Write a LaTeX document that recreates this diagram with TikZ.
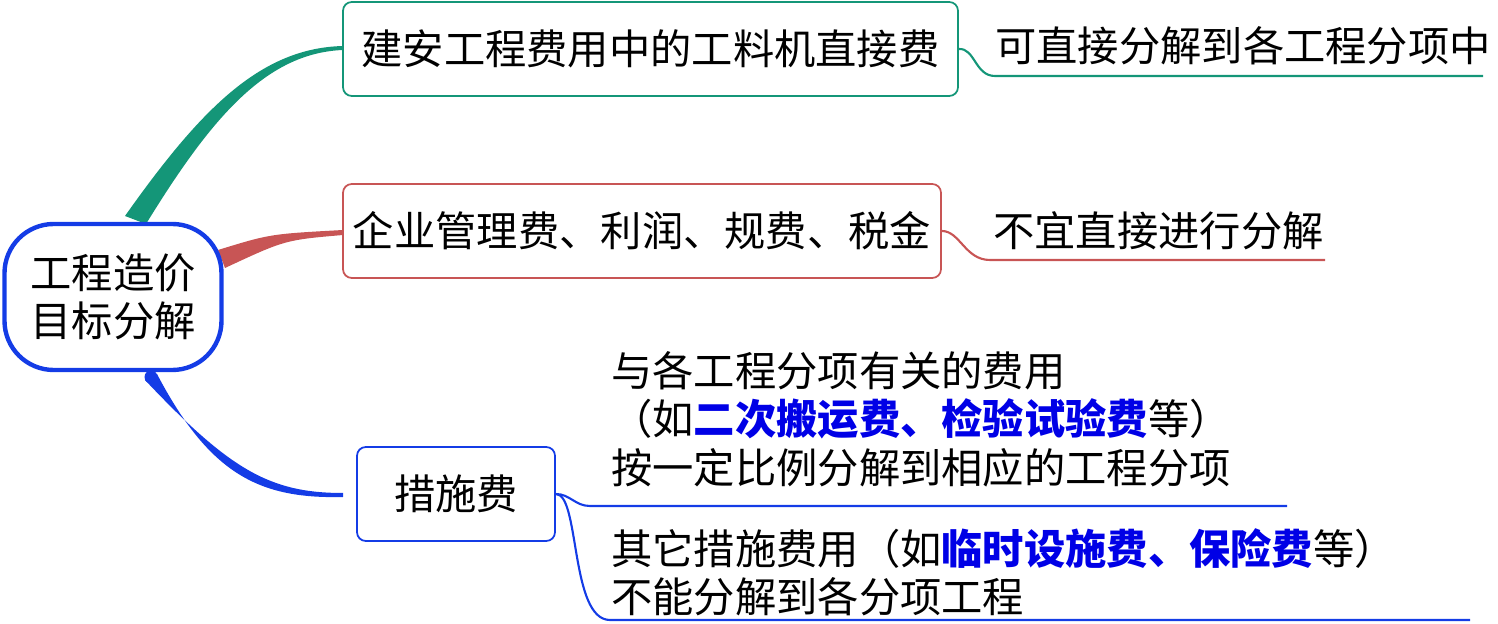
\documentclass[tikz,border=0pt]{standalone}
\usepackage{fontspec}
\setmainfont{Noto Sans CJK SC}
\definecolor{cg}{RGB}{20,150,120}
\definecolor{cr}{RGB}{200,85,85}
\definecolor{cb}{RGB}{20,60,230}
\definecolor{bt}{RGB}{0,0,230}
\begin{document}
\begin{tikzpicture}[x=0.02cm,y=-0.02cm,
 box/.style={draw,rounded corners=5pt,line width=1pt,inner sep=0pt,font=\fontsize{23.5pt}{28pt}\selectfont},
 txt/.style={anchor=west,inner sep=0pt,font=\fontsize{23.5pt}{27.5pt}\selectfont,align=left}]
\useasboundingbox (0,0) rectangle (1498,624);
% branches
\fill[cg] (125,216) .. controls (200,110) and (260,48) .. (343,46) -- (343,50) .. controls (265,53) and (210,120) .. (146,224) -- cycle;
\fill[cr] (218,250) .. controls (270,234) .. (343,230) -- (343,235) .. controls (285,240) .. (225,268) -- cycle;
\fill[cb] (145,380) .. controls (230,470) and (270,493) .. (343,493) -- (343,497) .. controls (260,499) and (210,475) .. (157,374) -- cycle;
\fill[cb] (151,377) circle (6.5);
\node[box,draw=cb,line width=2.5pt,rounded corners=28pt,minimum width=217*0.02cm,minimum height=146*0.02cm,align=center,font=\fontsize{23.5pt}{27pt}\selectfont] (root) at (113,297) {工程造价\\目标分解};
\node[box,draw=cg,minimum width=615*0.02cm,minimum height=94*0.02cm] (b1) at (650.5,49) {建安工程费用中的工料机直接费};
\node[box,draw=cr,minimum width=598*0.02cm,minimum height=94*0.02cm] (b2) at (642,231) {企业管理费、利润、规费、税金};
\node[box,draw=cb,minimum width=198*0.02cm,minimum height=94*0.02cm] (b3) at (456,494) {措施费};
\node[txt] (t1) at (995,46) {可直接分解到各工程分项中};
\node[txt] (t2) at (993,231) {不宜直接进行分解};
\node[txt] (t3) at (611,419) {与各工程分项有关的费用\\（如{\color{bt}\bfseries 二次搬运费、检验试验费}等）\\按一定比例分解到相应的工程分项};
\node[txt] (t4) at (611,572) {其它措施费用（如{\color{bt}\bfseries 临时设施费、保险费}等）\\不能分解到各分项工程};
\coordinate (u1a) at (995,76); \coordinate (u1b) at (1483,76);
\coordinate (u2a) at (990,260); \coordinate (u2b) at (1325,260);
\coordinate (u3a) at (590,506); \coordinate (u3b) at (1287,506);
\coordinate (u4a) at (610,620); \coordinate (u4b) at (1470,620);
\draw[cg,line width=1.2pt] (b1.east) .. controls (975,48) and (975,76) .. (u1a) -- (u1b);
\draw[cr,line width=1.2pt] (b2.east) .. controls (960,231) and (965,260) .. (u2a) -- (u2b);
\draw[cb,line width=1.2pt] (b3.east) .. controls (570,494) and (575,506) .. (u3a) -- (u3b);
\draw[cb,line width=1.2pt] (b3.east) .. controls (580,494) and (570,620) .. (u4a) -- (u4b);
\end{tikzpicture}
\end{document}
